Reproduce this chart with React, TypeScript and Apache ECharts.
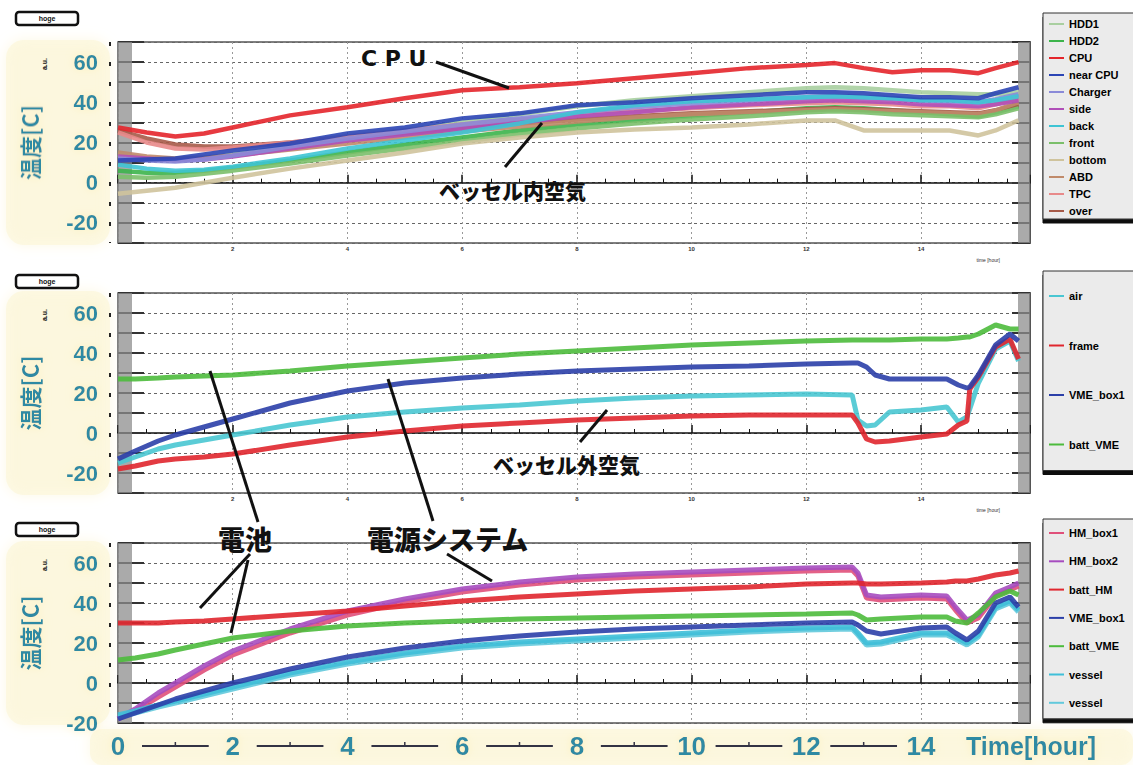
import React, { useEffect, useRef } from "react";
import * as echarts from "echarts";

// ---------- data ----------
const T1 = [0, 0.5, 1, 1.5, 2, 3, 4, 5, 6, 7, 8, 9, 10, 11, 12, 12.5, 13, 13.5, 14, 14.5, 15, 15.3, 15.7];
const P1_HDD1 = [14, 12, 11, 12, 14, 18, 22, 26, 30, 34, 38, 41, 43, 45, 47, 47.5, 47, 46, 45, 44.5, 44, 44, 45];
const P1_HDD2 = [6, 5, 5, 6, 7.5, 11, 15, 19, 22.5, 26, 29, 31, 33, 35, 37, 37.5, 37, 36, 35, 34, 33, 35, 38];
const P1_CPU = [27.5, 25, 23, 24.5, 27.5, 33.5, 37.5, 42, 46, 47.5, 49.5, 52, 54.5, 57, 58.5, 59.5, 57, 55, 56, 56, 54.5, 57, 60];
const P1_NEARCPU = [11, 11.5, 12, 14, 16, 19.5, 24.5, 27.5, 32, 34.5, 38.5, 40, 42, 43.5, 45, 45, 44.5, 43.5, 42.5, 42.5, 42, 44.5, 47.5];
const P1_CHARGER = [12, 11, 10.5, 11.5, 13.5, 18, 22, 25.5, 29, 32, 35, 37.5, 39.5, 41, 42.5, 43, 42.5, 42, 41, 40.5, 40, 41.5, 44];
const P1_SIDE = [13, 12, 11, 11.5, 13, 17, 21, 24, 27, 30, 33, 35, 37.5, 39, 40.5, 41, 40.5, 40, 39, 38.5, 38, 39, 41];
const P1_BACK = [9, 7, 6, 6.5, 8, 12, 17, 21, 25, 29.5, 35, 38.5, 40.5, 41.5, 42.5, 43, 42.5, 42, 41, 41, 40, 41, 43];
const P1_FRONT = [3, 2.5, 3, 4.5, 6, 9.5, 13.5, 17, 20.5, 24, 27, 29.5, 31.5, 33, 35, 35.5, 35, 34, 33.5, 33, 32.5, 34, 37];
const P1_BOTTOM = [-5.5, -4, -2.5, 0, 2.5, 7, 11, 15, 19.5, 22.5, 25, 26.5, 27.5, 29, 31, 31, 26, 26, 26, 26, 23.5, 26, 31];
const P1_ABD = [15, 13, 12, 12.5, 13.5, 16.5, 19.5, 22.5, 25.5, 28, 30.5, 32.5, 34, 35, 36, 36.5, 36, 35.5, 35, 34.5, 34, 36, 40];
const P1_TPC = [25, 20, 17, 16.5, 17.5, 20, 23, 26, 29, 31.5, 33.5, 35.5, 37, 38.5, 39.5, 40, 39.5, 39, 38, 38, 37, 39, 42];
const P1_OVER = [26, 22, 19, 18, 18, 20, 22, 24.5, 27, 29.5, 31.5, 33, 34.5, 35.5, 36.5, 37, 36.5, 36, 35.5, 35, 34.5, 36, 39];

const T2 = [0, 0.3, 0.7, 1, 1.5, 2, 3, 4, 5, 6, 7, 8, 9, 10, 11, 12, 12.8, 12.9, 13.05, 13.2, 13.45, 14, 14.45, 14.65, 14.8, 14.85, 15.0, 15.3, 15.55, 15.7];
const P2_AIR = [-15, -12, -8, -6, -3.5, -1, 4, 8, 10.5, 12.5, 14, 16, 17.5, 18.5, 19, 19.5, 19, 6.5, 3.5, 4, 10.5, 11.5, 13, 5.5, 8, 12, 25, 42, 46, 36];
const P2_FRAME = [-18, -16.5, -14, -13, -12, -10.5, -6, -2, 1, 3.5, 5, 6.5, 7.5, 8.5, 9, 9, 9, 5, -3, -4.5, -4, -2, -0.5, 4, 6, 22, 28, 43, 47, 37];
const P2_VMEBOX = [-13, -9, -4, -1, 3, 7, 15, 21, 25, 27.5, 29.5, 31, 32, 33, 33.5, 34.5, 35, 35, 33, 29, 27, 27, 27, 24, 22.5, 23, 29, 44, 49.5, 46];
const P2_BATTVME = [27, 27, 27.5, 28, 28.5, 29, 31, 33.5, 35.5, 37.5, 39.5, 41, 42.5, 44, 45, 46, 46.5, 46.5, 46.5, 46.5, 46.5, 47, 47, 47.5, 48, 48, 49.5, 54, 52, 52];

const T3 = [0, 0.3, 0.7, 1, 1.5, 2, 3, 4, 5, 6, 7, 8, 9, 10, 11, 12, 12.8, 12.9, 13.05, 13.3, 14, 14.45, 14.6, 14.8, 15.0, 15.3, 15.55, 15.7];
const P3_HMBOX1 = [-18, -14, -7, -2, 6.5, 14, 25, 34, 40.5, 45.5, 49, 51.5, 53, 54, 55, 56, 56.5, 53.5, 42.5, 41.5, 42.5, 42, 36.5, 30, 32.5, 43.5, 46.5, 48.5];
const P3_HMBOX2 = [-18, -13, -5, 0, 8.5, 16, 27, 36, 42, 47, 50.5, 53, 54.5, 55.5, 56.5, 57.5, 58, 55, 44, 43, 44, 43.5, 38, 31.5, 34, 45, 48, 50];
const P3_BATTHM = [30, 30, 30, 30.5, 31, 32, 34, 36, 38.5, 41, 43, 44.5, 46, 47, 48, 49.5, 50, 50, 49.5, 49.5, 50, 50.5, 51, 51, 52, 54, 55, 56];
const P3_VMEBOX = [-18, -15, -11, -8, -4, 0, 7, 13, 17.5, 21, 23.5, 25.5, 27, 28, 29, 30, 30.5, 29, 26, 24.5, 27.5, 28, 25, 21.5, 26, 40, 43, 38];
const P3_BATTVME = [11.5, 12.5, 14.5, 16.5, 19.5, 22.5, 26, 28.5, 30, 31, 32, 32.5, 33, 33.5, 34, 34.5, 35, 34, 31.5, 32, 33, 33, 31, 30, 35, 43, 46, 44];
const P3_VESSEL1 = [-16, -14, -11, -9, -5.5, -2, 5, 10.5, 15, 18.5, 20.5, 22, 23.5, 25, 26.5, 27.5, 28, 25, 20, 20.5, 25, 25, 23, 20, 24, 38, 41, 36.5];
const P3_VESSEL2 = [-17, -15, -12, -10, -6.5, -3, 4, 9.5, 14, 17.5, 19.5, 21, 22.5, 24, 25.5, 26.5, 27, 24, 19, 19.5, 24, 24, 22, 19, 23, 37, 40, 35.5];

const Y_LABELS = [-20, 0, 20, 40, 60];
const X_LABELS = [0, 2, 4, 6, 8, 10, 12, 14];

const TEAL = "#2f8aa3";
const GL = 118;
const GW = 912;
const XMAX = 15.9;
const TOPS = [42, 293, 543];
const HEIGHTS = [201, 200, 180];
const YMIN = [-30, -30, -20];

type S = { name: string; color: string; t: number[]; v: number[]; p: number };
const SERIES: S[] = [
  { name: "HDD1", color: "#a9cfa0", t: T1, v: P1_HDD1, p: 0 },
  { name: "HDD2", color: "#3cb44b", t: T1, v: P1_HDD2, p: 0 },
  { name: "over", color: "#a65a48", t: T1, v: P1_OVER, p: 0 },
  { name: "TPC", color: "#e88a8a", t: T1, v: P1_TPC, p: 0 },
  { name: "ABD", color: "#c08a6a", t: T1, v: P1_ABD, p: 0 },
  { name: "front", color: "#7bbf6a", t: T1, v: P1_FRONT, p: 0 },
  { name: "bottom", color: "#cfc39c", t: T1, v: P1_BOTTOM, p: 0 },
  { name: "side", color: "#b04fb8", t: T1, v: P1_SIDE, p: 0 },
  { name: "Charger", color: "#8a8ad8", t: T1, v: P1_CHARGER, p: 0 },
  { name: "back", color: "#3ec4d4", t: T1, v: P1_BACK, p: 0 },
  { name: "near CPU", color: "#2b45b5", t: T1, v: P1_NEARCPU, p: 0 },
  { name: "CPU", color: "#e4252b", t: T1, v: P1_CPU, p: 0 },
  { name: "air", color: "#49c6d2", t: T2, v: P2_AIR, p: 1 },
  { name: "frame", color: "#e0262e", t: T2, v: P2_FRAME, p: 1 },
  { name: "VME_box1", color: "#2b3fa8", t: T2, v: P2_VMEBOX, p: 1 },
  { name: "batt_VME", color: "#4cbb3c", t: T2, v: P2_BATTVME, p: 1 },
  { name: "HM_box1", color: "#e0507a", t: T3, v: P3_HMBOX1, p: 2 },
  { name: "HM_box2", color: "#a64cbf", t: T3, v: P3_HMBOX2, p: 2 },
  { name: "batt_HM", color: "#e0262e", t: T3, v: P3_BATTHM, p: 2 },
  { name: "vessel ", color: "#62c9dc", t: T3, v: P3_VESSEL2, p: 2 },
  { name: "vessel", color: "#3fbfd8", t: T3, v: P3_VESSEL1, p: 2 },
  { name: "VME_box1 ", color: "#2b3fa8", t: T3, v: P3_VMEBOX, p: 2 },
  { name: "batt_VME ", color: "#4cbb3c", t: T3, v: P3_BATTVME, p: 2 },
];

const LEGEND1 = ["HDD1", "HDD2", "CPU", "near CPU", "Charger", "side", "back", "front", "bottom", "ABD", "TPC", "over"];
const LEGEND2 = ["air", "frame", "VME_box1", "batt_VME"];
const LEGEND3 = ["HM_box1", "HM_box2", "batt_HM", "VME_box1 ", "batt_VME ", "vessel", "vessel "];

function buildOption() {
  const xPix = (t: number) => GL + (t / XMAX) * GW;
  const grids = TOPS.map((top, i) => ({
    left: GL,
    top,
    width: GW,
    height: HEIGHTS[i],
    show: true,
    backgroundColor: "#fff",
    borderColor: "#555",
    borderWidth: 1.5,
  }));
  const xAxes = TOPS.map((_, i) => ({
    type: "value",
    gridIndex: i,
    min: 0,
    max: XMAX,
    interval: 2,
    axisLine: { show: true, lineStyle: { color: "#111", width: 1.5 } },
    axisTick: { show: true, inside: true, length: 8, lineStyle: { color: "#111", width: 1.5 } },
    minorTick: { show: true, splitNumber: 4, length: 4, lineStyle: { color: "#111" } },
    splitLine: { show: true, lineStyle: { color: "#999", type: [2, 3], width: 1 } },
    axisLabel:
      i === 2
        ? {
            show: true,
            fontSize: 26,
            fontWeight: "bold",
            color: TEAL,
            fontFamily: "Liberation Sans",
            margin: 10,
            showMaxLabel: false,
            textShadowColor: "#fbf0b8",
            textShadowBlur: 8,
            formatter: (v: number) => (X_LABELS.includes(v) ? String(v) : ""),
          }
        : {
            show: true,
            fontSize: 6,
            fontWeight: "bold",
            color: "#333",
            margin: 3,
            showMaxLabel: false,
            formatter: (v: number) => (X_LABELS.includes(v) && v > 0 ? String(v) : ""),
          },
  }));
  const yLeft = TOPS.map((_, i) => ({
    type: "value",
    gridIndex: i,
    position: "left",
    min: YMIN[i],
    max: 70,
    interval: 10,
    name: "温度[C]",
    nameLocation: "middle",
    nameRotate: 90,
    nameGap: 78,
    nameTextStyle: {
      fontSize: 22,
      fontWeight: "bold",
      color: TEAL,
      fontFamily: "Noto Sans CJK JP",
      textShadowColor: "#fbf0b8",
      textShadowBlur: 8,
    },
    axisLine: { show: false },
    axisTick: { show: true, inside: true, length: 26, lineStyle: { color: "#333", width: 2 } },
    splitLine: { show: true, lineStyle: { color: "#666", type: [3, 3], width: 1 } },
    axisLabel: {
      show: true,
      fontSize: 22,
      fontWeight: "bold",
      color: TEAL,
      fontFamily: "Liberation Sans",
      margin: 20,
      textShadowColor: "#fbf0b8",
      textShadowBlur: 8,
      formatter: (v: number) => (Y_LABELS.includes(v) ? String(v) : ""),
    },
  }));
  const yRight = TOPS.map((_, i) => ({
    type: "value",
    gridIndex: i,
    position: "right",
    min: YMIN[i],
    max: 70,
    interval: 10,
    axisLine: { show: true, lineStyle: { color: "#555", width: 2 } },
    axisTick: { show: true, inside: true, length: 18, lineStyle: { color: "#333", width: 2 } },
    splitLine: { show: false },
    axisLabel: { show: false },
  }));

  const series = SERIES.map((s) => ({
    type: "line",
    name: s.name,
    xAxisIndex: s.p,
    yAxisIndex: s.p,
    data: s.t.map((t, i) => [t, s.v[i]]),
    showSymbol: false,
    symbol: "none",
    color: s.color,
    lineStyle: { width: s.p === 0 ? 4.5 : 5, color: s.color, opacity: 0.9 },
    z: 3,
  }));

  const legendBase = {
    orient: "vertical",
    left: 1043,
    icon: "rect",
    itemWidth: 15,
    itemHeight: 2,
    backgroundColor: "#ebebeb",
    borderColor: "#333",
    borderWidth: 1,
    shadowColor: "rgba(0,0,0,0.95)",
    shadowOffsetX: 0,
    shadowOffsetY: 4,
    shadowBlur: 0,
    textStyle: { fontSize: 11, lineHeight: 12, fontWeight: 900, color: "#000", fontFamily: "Liberation Sans" },
    selectedMode: false,
  };
  const legends = [
    { ...legendBase, top: 13, itemGap: 5, padding: [5, 70, 2, 6], data: LEGEND1 },
    { ...legendBase, top: 271, itemGap: 37.5, padding: [19, 70, 20, 6], data: LEGEND2 },
    { ...legendBase, top: 519, itemGap: 16.3, padding: [8, 70, 10, 6], data: LEGEND3 },
  ];

  const graphic: any[] = [];
  // pale yellow haze behind labels
  TOPS.forEach((top, i) => {
    graphic.push({
      type: "rect",
      silent: true,
      z: -10,
      shape: { x: 6, y: top - 2, width: 104, height: HEIGHTS[i] + 4, r: 18 },
      style: { fill: "#fcf6da", opacity: 0.7, shadowBlur: 14, shadowColor: "#fcf6da" },
    });
  });
  graphic.push({
    type: "rect",
    silent: true,
    z: -10,
    shape: { x: 90, y: 729, width: 1043, height: 36, r: 12 },
    style: { fill: "#fcf6da", opacity: 0.7, shadowBlur: 14, shadowColor: "#fcf6da" },
  });
  // ROOT frame grey strips and dashed axis line
  TOPS.forEach((top, i) => {
    const h = HEIGHTS[i];
    graphic.push({
      type: "rect",
      silent: true,
      z: 1,
      shape: { x: GL, y: top, width: 14, height: h },
      style: { fill: "#8e8e8e", opacity: 0.75 },
    });
    graphic.push({
      type: "rect",
      silent: true,
      z: 1,
      shape: { x: GL + GW - 12, y: top, width: 12, height: h },
      style: { fill: "#8e8e8e", opacity: 0.75 },
    });
    graphic.push({
      type: "line",
      silent: true,
      shape: { x1: 110, y1: top, x2: 110, y2: top + h },
      style: { stroke: "#222", lineWidth: 2, lineDash: [4, 16] },
    });
    // title pill
    const py = [12, 275, 523][i];
    graphic.push({
      type: "rect",
      silent: true,
      shape: { x: 16, y: py, width: 62, height: 13, r: 3 },
      style: { fill: "#fff", stroke: "#111", lineWidth: 2.5 },
    });
    graphic.push({
      type: "text",
      silent: true,
      x: 47,
      y: py + 6.5,
      style: { text: "hoge", fontSize: 7, fontWeight: "bold", fill: "#111", align: "center", verticalAlign: "middle" },
    });
    graphic.push({
      type: "text",
      silent: true,
      x: 44,
      y: top + 22,
      rotation: Math.PI / 2,
      style: { text: "a.u.", fontSize: 7, fontWeight: "bold", fill: "#111", align: "center", verticalAlign: "middle" },
    });
    if (i < 2) {
      graphic.push({
        type: "text",
        silent: true,
        x: 1000,
        y: top + h + 14,
        style: { text: "time [hour]", fontSize: 5, fill: "#333", align: "right" },
      });
    }
  });
  // bottom x-label connector dashes
  for (let t = 0; t < 14; t += 2) {
    const a = xPix(t) + 24;
    const b = xPix(t + 2) - 24;
    graphic.push({
      type: "line",
      silent: true,
      shape: { x1: a, y1: 746, x2: b, y2: 746 },
      style: { stroke: "#334", lineWidth: 2 },
    });
    graphic.push({
      type: "line",
      silent: true,
      shape: { x1: (a + b) / 2, y1: 742, x2: (a + b) / 2, y2: 746 },
      style: { stroke: "#334", lineWidth: 1.5 },
    });
  }
  graphic.push({
    type: "text",
    silent: true,
    x: 966,
    y: 746,
    style: {
      text: "Time[hour]",
      fontSize: 25,
      fontWeight: "bold",
      fill: TEAL,
      fontFamily: "Liberation Sans",
      verticalAlign: "middle",
      textShadowColor: "#fbf0b8",
      textShadowBlur: 8,
    },
  });
  // annotations
  const ann = (text: string, x: number, y: number, fs: number, fam: string) => ({
    type: "text",
    silent: true,
    z: 10,
    x,
    y,
    style: { text, fontSize: fs, fontWeight: 900, fill: "#111", fontFamily: fam, verticalAlign: "middle" },
  });
  const seg = (x1: number, y1: number, x2: number, y2: number) => ({
    type: "line",
    silent: true,
    z: 10,
    shape: { x1, y1, x2, y2 },
    style: { stroke: "#111", lineWidth: 3 },
  });
  graphic.push(ann("C P U", 361, 58, 22, "DejaVu Sans"));
  graphic.push(seg(436, 62, 509, 88));
  graphic.push(ann("ベッセル内空気", 439, 190, 21, "Noto Sans CJK JP"));
  graphic.push(seg(505, 167, 542, 123));
  graphic.push(ann("ベッセル外空気", 493, 464, 21, "Noto Sans CJK JP"));
  graphic.push(seg(580, 442, 607, 410));
  graphic.push(ann("電池", 218, 538, 27, "Noto Sans CJK JP"));
  graphic.push(seg(210, 371, 258, 522));
  graphic.push(seg(250, 554, 200, 608));
  graphic.push(seg(248, 560, 231, 633));
  graphic.push(ann("電源システム", 367, 538, 27, "Noto Sans CJK JP"));
  graphic.push(seg(388, 379, 433, 521));
  graphic.push(seg(447, 554, 492, 581));

  return {
    animation: false,
    backgroundColor: "#ffffff",
    grid: grids,
    xAxis: xAxes,
    yAxis: [...yLeft, ...yRight],
    legend: legends,
    series,
    graphic,
  };
}

export default function App() {
  const ref = useRef<HTMLDivElement>(null);
  useEffect(() => {
    if (!ref.current) return;
    const chart = echarts.init(ref.current, null, { renderer: "svg" });
    chart.setOption(buildOption() as any);
    return () => chart.dispose();
  }, []);
  return (
    <div
      ref={ref}
      style={{ position: "absolute", left: 0, top: 0, width: 1133, height: 765, background: "#fff" }}
    />
  );
}
